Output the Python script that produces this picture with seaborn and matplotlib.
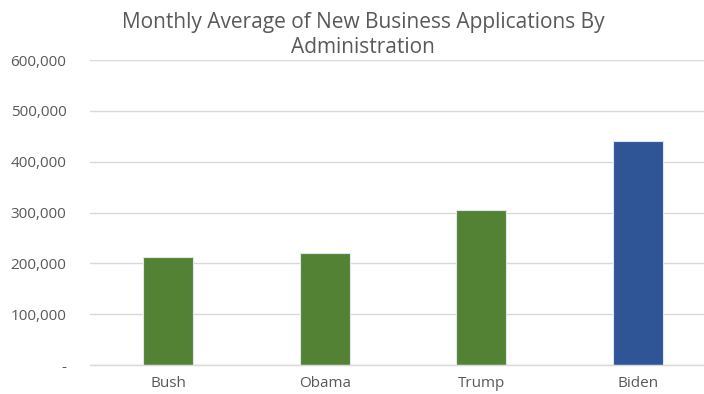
import matplotlib
matplotlib.use("Agg")
import matplotlib.pyplot as plt
import seaborn as sns
import pandas as pd
from matplotlib.ticker import FuncFormatter

administrations = ["Bush", "Obama", "Trump", "Biden"]
monthly_avg = [212000, 220000, 304000, 441000]
bar_colors = ["#548235", "#548235", "#548235", "#2F5597"]
y_ticks = [0, 100000, 200000, 300000, 400000, 500000, 600000]

df = pd.DataFrame({"admin": administrations, "value": monthly_avg})

sns.set_theme(style="white")
plt.rcParams["font.family"] = ["Open Sans", "DejaVu Sans"]

W, H = 704, 394
fig = plt.figure(figsize=(W / 100, H / 100), dpi=100)
left, right, bottom, top = 90, 716, 365, 60
ax = fig.add_axes([left / W, (H - bottom) / H, (right - left) / W, (bottom - top) / H])

sns.barplot(data=df, x="admin", y="value", hue="admin", palette=bar_colors,
            width=0.32, legend=False, ax=ax, edgecolor="#dfe6ef", linewidth=0.8,
            saturation=1)

ax.set_ylim(0, 600000)
ax.set_xlim(-0.5, 3.5)
ax.set_yticks(y_ticks)
ax.yaxis.set_major_formatter(FuncFormatter(lambda v, p: "-" if v == 0 else f"{int(v):,}"))
ax.grid(axis="y", color="#D9D9D9", linewidth=1)
ax.set_axisbelow(True)
for s in ["top", "right", "left"]:
    ax.spines[s].set_visible(False)
ax.spines["bottom"].set_color("#D9D9D9")
ax.spines["bottom"].set_linewidth(1)
ax.tick_params(axis="y", length=0, pad=17, labelsize=11, labelcolor="#595959")
ax.tick_params(axis="x", length=0, pad=8, labelsize=11, labelcolor="#595959")
ax.set_xlabel("")
ax.set_ylabel("")

fig.text(363 / W, 1 - 35 / H, "Monthly Average of New Business Applications By\nAdministration",
         ha="center", va="center", fontsize=15, color="#595959", linespacing=1.2)

fig.savefig("out.png", dpi=100)
